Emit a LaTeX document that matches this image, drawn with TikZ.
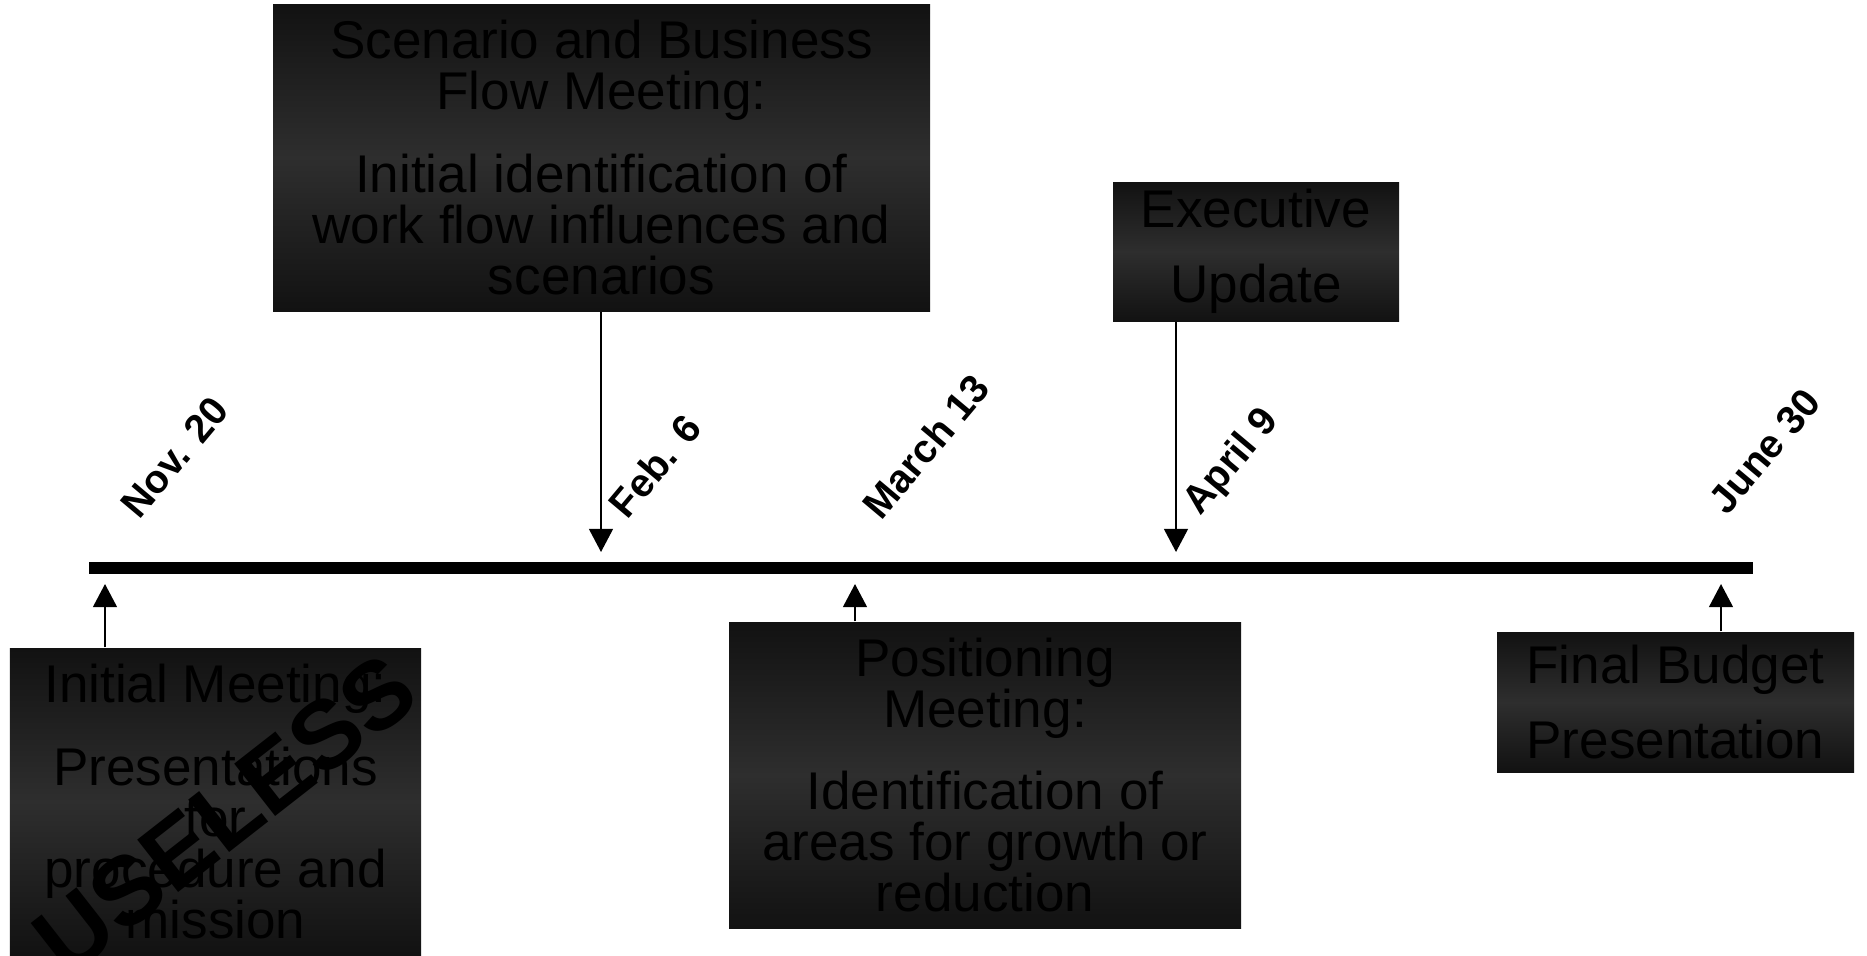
\documentclass[tikz,border=0pt]{standalone}
\usepackage{fontspec}
\setmainfont{Liberation Sans}
\usetikzlibrary{arrows.meta}

\begin{document}
\begin{tikzpicture}[
 event/.style={align=center,inner sep=0pt,text=black,
  top color=black!93,bottom color=black!93,middle color=black!82,
  font=\fontsize{15.1}{14.5}\selectfont},
 datelbl/.style={anchor=base west,rotate=50,inner sep=0pt,
  font=\fontsize{11.3}{14}\selectfont\bfseries},
 link/.style={line width=0.6pt,-{Triangle[width=6.8pt,length=6.6pt]}},
 timeline/.style={line width=3.4pt}]
\useasboundingbox (0,0) rectangle (18.67,-9.55);
\coordinate (start) at (0.89,-5.68);
\coordinate (end) at (17.53,-5.68);
\draw[timeline] (start) -- (end);
\coordinate (nov) at (1.05,-5.84);
\coordinate (feb) at (6.01,-5.52);
\coordinate (mar) at (8.55,-5.84);
\coordinate (apr) at (11.76,-5.52);
\coordinate (jun) at (17.21,-5.84);
\node[event,minimum width=6.57cm,minimum height=3.07cm] (scen) at (6.015,-1.575)
 {Scenario and Business\\Flow Meeting:\\[9.1pt]Initial identification of\\work flow influences and\\scenarios};
\node[event,minimum width=2.86cm,minimum height=1.39cm] (exec) at (12.56,-2.515)
 {Executive\\[6.8pt]Update};
\node[event,minimum width=4.11cm,minimum height=3.07cm] (init) at (2.155,-8.015)
 {Initial Meeting:\\[9.1pt]Presentations\\for\\procedure and\\mission};
\node[event,minimum width=5.12cm,minimum height=3.06cm] (pos) at (9.85,-7.75)
 {Positioning\\Meeting:\\[9.1pt]Identification of\\areas for growth or\\reduction};
\node[event,minimum width=3.57cm,minimum height=1.40cm] (final) at (16.755,-7.02)
 {Final Budget\\[6.8pt]Presentation};
\draw[link] (init.north -| nov) -- (nov);
\draw[link] (scen.south -| feb) -- (feb);
\draw[link] (pos.north -| mar) -- (mar);
\draw[link] (exec.south -| apr) -- (apr);
\draw[link] (final.north -| jun) -- (jun);
\node[datelbl] (dnov) at (1.39,-5.21) {Nov. 20};
\node[datelbl] (dfeb) at (6.27,-5.21) {Feb. 6};
\node[datelbl] (dmar) at (8.81,-5.22) {March 13};
\node[datelbl] (dapr) at (12.00,-5.17) {April 9};
\node[datelbl] (djun) at (17.27,-5.17) {June 30};
\node[rotate=38,font=\fontsize{27.5}{27.5}\selectfont\bfseries] (mark) at (2.25,-8.14) {USELESS};
\end{tikzpicture}
\end{document}
